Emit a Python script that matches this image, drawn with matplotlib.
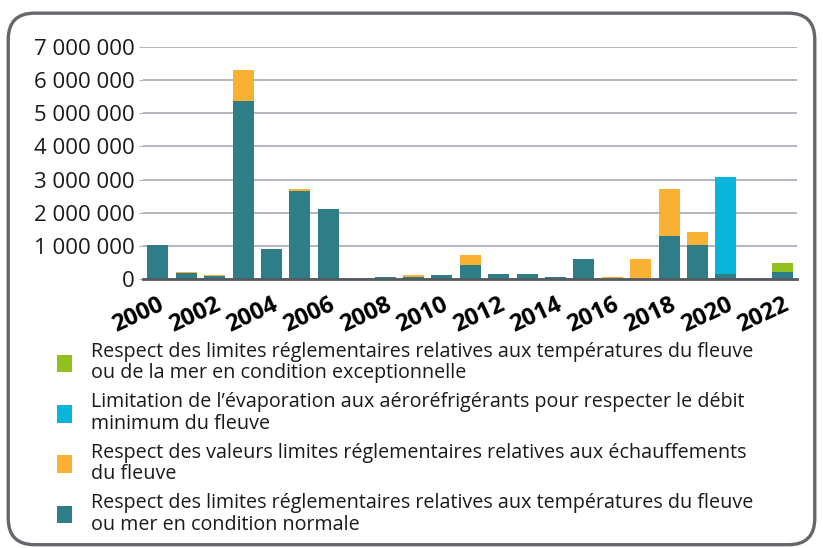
import matplotlib
matplotlib.use("Agg")
import matplotlib.pyplot as plt
from matplotlib.patches import FancyBboxPatch, Patch
from matplotlib.ticker import FuncFormatter, MultipleLocator
import numpy as np

plt.rcParams['font.family'] = ['Open Sans', 'DejaVu Sans']

years = list(range(2000, 2023))
normal = [1040000, 170000, 90000, 5370000, 900000, 2660000, 2110000, 0,
          50000, 60000, 110000, 410000, 140000, 140000, 50000, 610000,
          0, 0, 1310000, 1030000, 160000, 0, 220000]
echauffement = [0, 40000, 30000, 950000, 0, 40000, 0, 0,
                0, 50000, 0, 310000, 0, 0, 0, 0,
                50000, 610000, 1390000, 400000, 0, 0, 0]
evaporation = [0] * 20 + [2930000, 0, 0]
exceptionnel = [0] * 22 + [260000]

labels = [
    "Respect des limites réglementaires relatives aux températures du fleuve\nou de la mer en condition exceptionnelle",
    "Limitation de l’évaporation aux aéroréfrigérants pour respecter le débit\nminimum du fleuve",
    "Respect des valeurs limites réglementaires relatives aux échauffements\ndu fleuve",
    "Respect des limites réglementaires relatives aux températures du fleuve\nou mer en condition normale",
]
c_normal = "#2f7d86"
c_echauf = "#f8b133"
c_evap = "#0ab5dc"
c_except = "#92c11f"

fig = plt.figure(figsize=(8.23, 5.48), dpi=100)
ax = fig.add_axes([0.1738, 0.4909, 0.7946, 0.4234])

x = np.arange(len(years))
w = 0.74
n = np.array(normal)
e = np.array(echauffement)
v = np.array(evaporation)
g = np.array(exceptionnel)
ax.bar(x, n, w, color=c_normal, zorder=3)
ax.bar(x, e, w, bottom=n, color=c_echauf, zorder=3)
ax.bar(x, v, w, bottom=n + e, color=c_evap, zorder=3)
ax.bar(x, g, w, bottom=n + e + v, color=c_except, zorder=3)

ax.set_xlim(-0.52, 22.5)
ax.set_ylim(0, 7000000)
ax.yaxis.set_major_locator(MultipleLocator(1000000))
ax.yaxis.set_major_formatter(FuncFormatter(lambda val, pos: f"{int(val):,}".replace(",", " ")))
ax.grid(axis="y", color="#b3b6bf", linewidth=1.4, zorder=0)
for s in ["top", "right", "left"]:
    ax.spines[s].set_visible(False)
ax.spines["bottom"].set_color("#555a60")
ax.spines["bottom"].set_linewidth(2)
ax.spines["bottom"].set_zorder(4)
ax.tick_params(axis="y", length=3, color="#b3b6bf", labelsize=16, labelcolor="#1a1a1a", pad=3)
ax.set_xticks(x[::2])
ax.set_xticklabels([str(y) for y in years[::2]], rotation=25, ha="right",
                   rotation_mode="anchor", fontsize=17, fontweight="bold")
ax.tick_params(axis="x", length=0, pad=10)

handles = [Patch(facecolor=c) for c in [c_except, c_evap, c_echauf, c_normal]]
leg = fig.legend(handles, labels, loc="upper left", bbox_to_anchor=(0.069, 0.376),
                 frameon=False, fontsize=14.2, handlelength=0.76, handleheight=1.0,
                 handletextpad=1.0, labelspacing=0.45, borderaxespad=0,
                 borderpad=0)
for t in leg.get_texts():
    t.set_linespacing(1.1)
    t.set_color("#1a1a1a")

frame = FancyBboxPatch((0.010, 0.006), 0.980, 0.970,
                       boxstyle="round,pad=0,rounding_size=0.032",
                       transform=fig.transFigure, facecolor="none",
                       edgecolor="#64676c", linewidth=2.4, mutation_aspect=823 / 548)
fig.patches.append(frame)

fig.savefig("out.png", dpi=100)
